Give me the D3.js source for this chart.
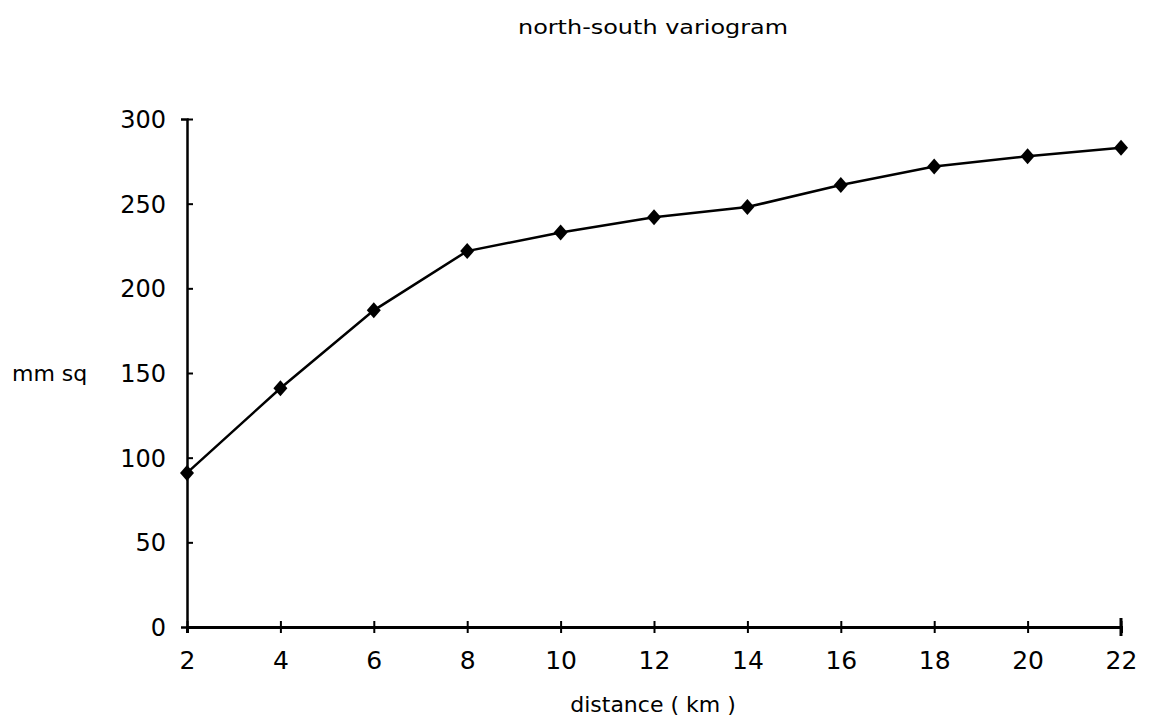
<!DOCTYPE html>
<html>
<head>
<meta charset="utf-8">
<script src="https://cdn.jsdelivr.net/npm/d3@7"></script>
<style>
  body { margin: 0; background: #fff; }
  text { fill: #000; }
</style>
</head>
<body>
<svg id="chart" width="1152" height="720"></svg>
<script>
// variogram values
var distances = [2, 4, 6, 8, 10, 12, 14, 16, 18, 20, 22];
var variance = [91, 141, 187, 222, 233, 242, 248, 261, 272, 278, 283];
var yTicks = [0, 50, 100, 150, 200, 250, 300];
var xTicks = [2, 4, 6, 8, 10, 12, 14, 16, 18, 20, 22];

var TITLE = "north-south variogram";
var X_LABEL = "distance ( km )";
var Y_LABEL = "mm sq";

var LEFT = 187, RIGHT = 1121, TOP = 119, BOTTOM = 627;
var FONT = "'DejaVu Sans', sans-serif";

var svg = d3.select("#chart");

var x = d3.scaleLinear().domain([2, 22]).range([LEFT, RIGHT]);
var y = d3.scaleLinear().domain([0, 300]).range([BOTTOM, TOP]);

// title
svg.append("text")
    .attr("x", 653)
    .attr("y", 34)
    .attr("text-anchor", "middle")
    .style("font-family", "'DejaVu Sans Condensed', 'DejaVu Sans', sans-serif")
    .style("font-size", "20px")
    .attr("textLength", 270)
    .attr("lengthAdjust", "spacingAndGlyphs")
    .text(TITLE);

// y axis
var yAxis = svg.append("g")
    .attr("transform", "translate(" + LEFT + ",0)")
    .call(d3.axisLeft(y).tickValues(yTicks).tickSize(6).tickPadding(15));
yAxis.select(".domain").attr("stroke-width", 2.5);
yAxis.selectAll(".tick line").attr("x2", 6).attr("stroke-width", 2);
yAxis.selectAll(".tick text")
    .style("font-family", FONT)
    .style("font-size", "24px")
    .attr("dy", "0.36em");

// x axis
var xAxis = svg.append("g")
    .attr("transform", "translate(0," + BOTTOM + ")")
    .call(d3.axisBottom(x).tickValues(xTicks).tickSize(6).tickPadding(18));
xAxis.select(".domain").attr("stroke-width", 3);
xAxis.selectAll(".tick line").attr("y1", -6).attr("stroke-width", 2);
xAxis.selectAll(".tick text")
    .style("font-family", FONT)
    .style("font-size", "25px");
// end cap at 22
xAxis.append("line")
    .attr("x1", x(22)).attr("x2", x(22))
    .attr("y1", -9).attr("y2", 9)
    .attr("stroke", "#000").attr("stroke-width", 3);

svg.selectAll(".domain").attr("stroke", "#000");
svg.selectAll(".tick line").attr("stroke", "#000");

// axis labels
svg.append("text")
    .attr("x", 653)
    .attr("y", 712)
    .attr("text-anchor", "middle")
    .style("font-family", FONT)
    .style("font-size", "22px")
    .text(X_LABEL);

svg.append("text")
    .attr("x", 12)
    .attr("y", y(150))
    .attr("dy", "0.36em")
    .style("font-family", FONT)
    .style("font-size", "22px")
    .text(Y_LABEL);

// the line
var pts = distances.map(function(d, i) { return [d, variance[i]]; });
var line = d3.line()
    .x(function(d) { return x(d[0]); })
    .y(function(d) { return y(d[1]); });

svg.append("path")
    .datum(pts)
    .attr("d", line)
    .attr("fill", "none")
    .attr("stroke", "#000")
    .attr("stroke-width", 2.5);

// diamond markers
svg.selectAll(".marker")
    .data(pts)
    .enter().append("path")
    .attr("class", "marker")
    .attr("d", "M0,-8L7,0L0,8L-7,0Z")
    .attr("transform", function(d) { return "translate(" + x(d[0]) + "," + y(d[1]) + ")"; })
    .attr("fill", "#000");
</script>
</body>
</html>
